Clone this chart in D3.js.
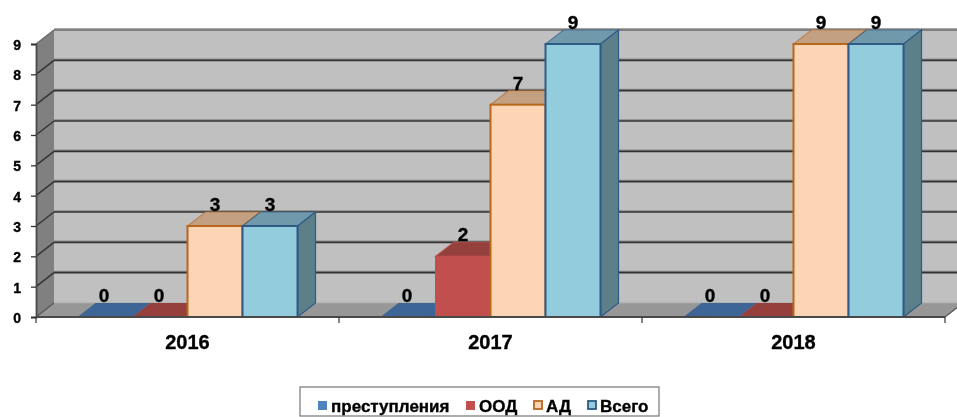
<!DOCTYPE html>
<html><head><meta charset="utf-8">
<script src="https://cdn.jsdelivr.net/npm/d3@7"></script>
<style>html,body{margin:0;padding:0;background:#fff}svg{display:block}
text{font-family:"Liberation Sans",Arial,sans-serif;font-weight:bold;fill:#000;stroke:#000;stroke-width:.35px}</style></head>
<body><div id="c"></div>
<script>
const categories = ["2016","2017","2018"];
const seriesNames = ["преступления","ООД","АД","Всего"];
const crimes = [0,0,0];
const ood = [0,2,0];
const ad = [3,7,9];
const total = [3,9,9];
const seriesValues = [crimes,ood,ad,total];
const yTicks = [0,1,2,3,4,5,6,7,8,9];
const front = ["#4f81bd","#c0504d","#fcd5b5","#93cddd"];
const topCol = ["#3c6595","#953f3c","#c4a083","#6f9aab"];
const sideCol = ["#325378","#7a3432","#a98b72","#5d7f8a"];
const edge = ["#4f81bd","#c0504d","#b8671f","#2f5a85"];

const W=957,H=417,dx=18,dy=-14;
const svg=d3.select("#c").append("svg").attr("width",W).attr("height",H);
const defs=svg.append("defs");
defs.append("filter").attr("id","soft").attr("filterUnits","userSpaceOnUse").attr("x",0).attr("y",0).attr("width",W).attr("height",H)
  .append("feGaussianBlur").attr("stdDeviation",0.6);
const g=svg.append("g").attr("filter","url(#soft)");

const x=d3.scaleBand().domain(categories).range([36,945]).paddingInner(0);
const y=d3.scaleLinear().domain([0,9]).range([317,44]);
const inner=d3.scaleBand().domain(d3.range(seriesNames.length)).range([41.5,261.5]);
const poly=p=>p.map(q=>q.join(",")).join(" ");
const L=x.range()[0],FR=x.range()[1],R=FR+dx,y0=y(0),y9=y(9);

// back wall, side wall, floor
g.append("rect").attr("x",L+dx).attr("y",y9+dy).attr("width",R-L-dx).attr("height",y0-y9).attr("fill","#c0c0c0");
g.append("polygon").attr("points",poly([[L,y9],[L+dx,y9+dy],[L+dx,y0+dy],[L,y0]])).attr("fill","#808080");
g.append("polygon").attr("points",poly([[L,y0],[L+dx,y0+dy],[R,y0+dy],[FR,y0]])).attr("fill","#979797");

// gridlines on wall and side
yTicks.slice(1).forEach(t=>{
  const yy=y(t);
  const c=t===9?"#6a6a6a":"#333";
  g.append("line").attr("x1",L+dx).attr("x2",R).attr("y1",yy+dy-1.2).attr("y2",yy+dy-1.2).attr("stroke","#8a8a8a").attr("stroke-width",1.2);
  g.append("line").attr("x1",L+dx).attr("x2",R).attr("y1",yy+dy).attr("y2",yy+dy).attr("stroke",c).attr("stroke-width",1.6);
  g.append("line").attr("x1",L).attr("x2",L+dx).attr("y1",yy).attr("y2",yy+dy).attr("stroke",c).attr("stroke-width",1.4);
});
g.append("line").attr("x1",L).attr("x2",L+dx).attr("y1",y0).attr("y2",y0+dy).attr("stroke","#555").attr("stroke-width",1.2);
g.append("line").attr("x1",L+dx).attr("x2",R).attr("y1",y0+dy).attr("y2",y0+dy).attr("stroke","#a8a8a8").attr("stroke-width",1);
g.append("line").attr("x1",FR).attr("x2",R).attr("y1",y0).attr("y2",y0+dy).attr("stroke","#555").attr("stroke-width",1.2);

// bars
categories.forEach((cat,ci)=>{
  seriesValues.forEach((vals,si)=>{
    const v=vals[ci], bx=x(cat)+inner(si), bw=inner.bandwidth(), ty=y(v);
    const b=g.append("g");
    const hasH=v>0;
    b.append("polygon").attr("points",poly([[bx,ty],[bx+dx,ty+dy],[bx+bw+dx,ty+dy],[bx+bw,ty]]))
      .attr("fill",topCol[si]).attr("stroke",hasH?edge[si]:"none").attr("stroke-opacity",.6).attr("stroke-width",1.2);
    if(hasH){
      b.append("polygon").attr("points",poly([[bx+bw,ty],[bx+bw+dx,ty+dy],[bx+bw+dx,y0+dy],[bx+bw,y0]]))
        .attr("fill",sideCol[si]).attr("stroke",edge[si]).attr("stroke-width",1.2);
      b.append("rect").attr("x",bx).attr("y",ty).attr("width",bw).attr("height",y0-ty)
        .attr("fill",front[si]).attr("stroke",edge[si]).attr("stroke-width",si>=2?2:1);
    }
  });
});

// front axis line
g.append("line").attr("x1",L).attr("x2",FR).attr("y1",y0).attr("y2",y0).attr("stroke","#4a4a4a").attr("stroke-width",2);
// labels above bars
categories.forEach((cat,ci)=>{
  seriesValues.forEach((vals,si)=>{
    const v=vals[ci];
    g.append("text").attr("x",x(cat)+inner(si)+inner.bandwidth()/2+(v===0?-1:0)).attr("y",y(v)-15)
      .attr("text-anchor","middle").attr("font-size",19).text(v);
  });
});

// axes
const ya=d3.axisLeft(y).tickValues(yTicks).tickSize(5).tickPadding(10).tickFormat(d3.format("d"));
const ag=g.append("g").attr("transform",`translate(${L},1)`).call(ya);
ag.select(".domain").attr("stroke","#4a4a4a").attr("stroke-width",1.8).attr("transform","translate(0,-1)");
ag.selectAll(".tick line").attr("stroke","#333").attr("stroke-width",1.3).attr("transform","translate(0,-1)");
ag.selectAll("text").attr("font-size",14).style("font-family",'"Liberation Sans"').style("font-weight","bold").attr("fill","#000");

const xa=d3.axisBottom(x).tickSize(0).tickPadding(18);
const xg=g.append("g").attr("transform",`translate(0,${y0})`).call(xa);
xg.select(".domain").remove();
xg.selectAll("text").attr("font-size",20).style("font-family",'"Liberation Sans"').style("font-weight","bold").attr("fill","#000");
d3.range(0,categories.length+1).forEach(i=>{
  const tx=L+i*x.step();
  g.append("line").attr("x1",tx).attr("x2",tx).attr("y1",y0).attr("y2",y0+6).attr("stroke","#333").attr("stroke-width",1.2);
});

// legend
const lg=g.append("g");
lg.append("rect").attr("x",300).attr("y",387).attr("width",359).attr("height",29).attr("fill","#fff").attr("stroke","#808080").attr("stroke-width",1.3);
const legendX=[318,466,533,587];
seriesNames.forEach((n,i)=>{
  const so=i>=2;
  lg.append("rect").attr("x",legendX[i]+(so?1:0)).attr("y",401).attr("width",so?8:9).attr("height",so?8:9)
    .attr("fill",front[i]).attr("stroke",so?edge[i]:"none").attr("stroke-width",so?1.8:0);
  lg.append("text").attr("x",legendX[i]+13).attr("y",412).attr("font-size",17).text(n);
});
</script></body></html>
